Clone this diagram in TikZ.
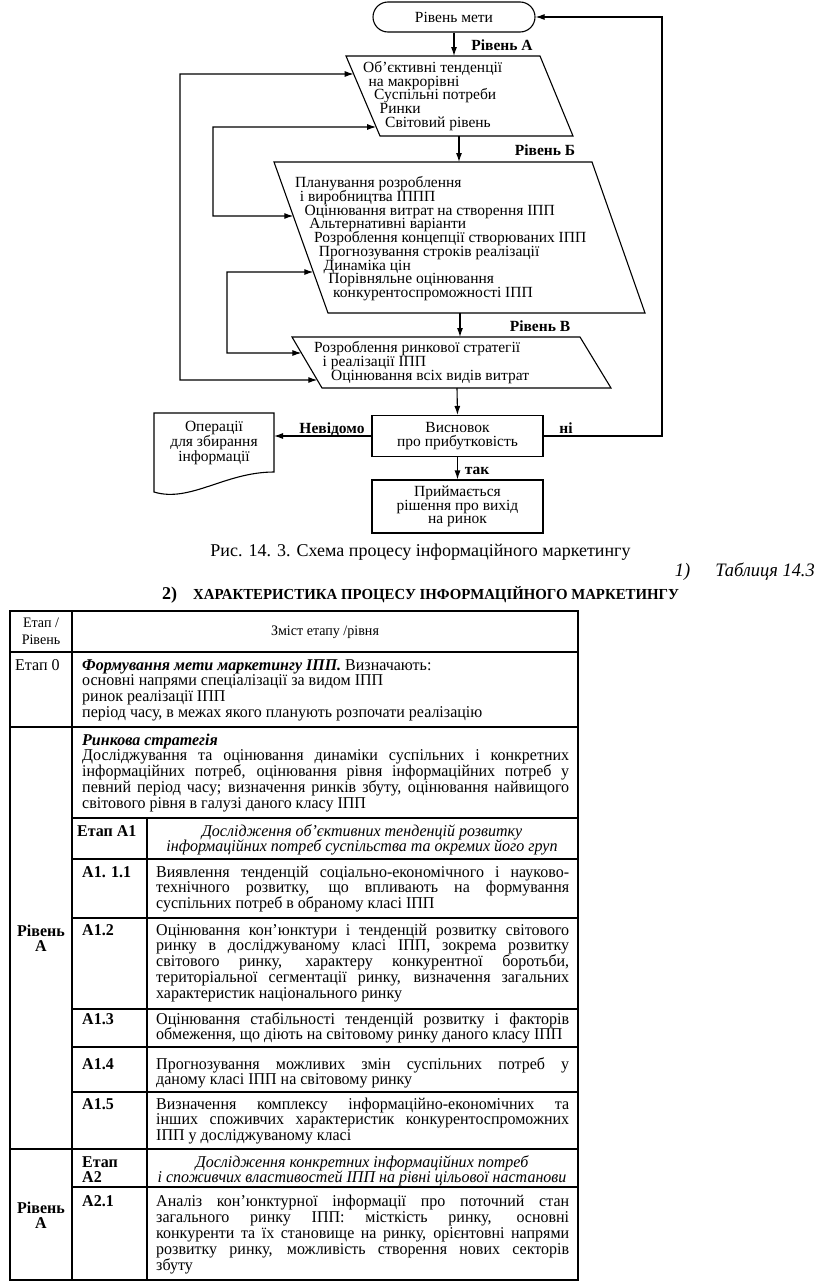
\documentclass[tikz,border=0pt]{standalone}
\usepackage{fontspec}
\setmainfont{Liberation Serif}
\newfontfamily\tabfont{Liberation Serif}[FakeStretch=0.97]
\usepackage{tikz}
\usetikzlibrary{arrows.meta, positioning, calc}
\newcommand{\fcfont}{\fontsize{15.5}{13.75}\selectfont}
\newcommand{\tbfont}{\tabfont\fontsize{16.5}{15.8}\selectfont}
\newcommand{\jl}[2][413pt]{\makebox[#1][s]{#2}}

\begin{document}
\begin{tikzpicture}[
  x=1pt, y=-1pt,
  link/.style={line width=1.1pt},
  flow/.style={link, -{Latex[length=9pt,width=6pt]}},
  both/.style={link, {Latex[length=9pt,width=6pt]}-{Latex[length=9pt,width=6pt]}},
  box/.style={draw, line width=1.1pt, minimum width=171pt, inner sep=0pt, font=\fcfont, align=center},
  term/.style={box, rounded corners=15pt, minimum width=162pt, minimum height=30pt},
  lvl/.style={font=\fcfont\bfseries, inner sep=0pt},
  ln/.style={anchor=base west, inner sep=0pt, font=\fcfont},
  cell/.style={anchor=base west, inner sep=0pt, font=\tbfont, align=left},
  grid/.style={line width=1.3pt}
]
  \useasboundingbox (0,0) rectangle (816,1282);

  \node[term] (goal) at (454,17) {Рівень мети};

  \draw[link] (346,56) coordinate (pa-nw) -- (540,56) coordinate (pa-ne)
    -- (573,136) coordinate (pa-se) -- (380,136) coordinate (pa-sw) -- cycle;
  \foreach \i/\t in {0/{Об’єктивні тенденції},1/{на макрорівні},2/{Суспільні потреби},3/{Ринки},4/{Світовий рівень}} {
    \node[ln] (ta\i) at (363+5.5*\i, 72.5+13.7*\i) {\t};
  }

  \draw[link] (274,162) coordinate (pb-nw) -- (592,162) coordinate (pb-ne)
    -- (645,313) coordinate (pb-se) -- (328,313) coordinate (pb-sw) -- cycle;
  \foreach \i/\t in {0/{Планування розроблення},1/{і виробництва ІППП},2/{Оцінювання витрат на створення ІПП},
    3/{Альтернативні варіанти},4/{Розроблення концепції створюваних ІПП},5/{Прогнозування строків реалізації},
    6/{Динаміка цін},7/{Порівняльне оцінювання},8/{конкурентоспроможності ІПП}} {
    \node[ln] (tb\i) at (295+4.75*\i, 187.5+13.75*\i) {\t};
  }

  \draw[link] (292,337) coordinate (pv-nw) -- (580,337) coordinate (pv-ne)
    -- (611,388) coordinate (pv-se) -- (322,388) coordinate (pv-sw) -- cycle;
  \foreach \i/\t in {0/{Розроблення ринкової стратегії},1/{і реалізації ІПП},2/{Оцінювання всіх видів витрат}} {
    \node[ln] (tv\i) at (314+8.5*\i, 352.5+14*\i) {\t};
  }

  \node[box, minimum height=41pt] (concl) at (457.5,436) {Висновок\\про прибутковість};
  \node[box, minimum height=53pt] (exit) at (457.5,506.5) {Приймається\\рішення про вихід\\на ринок};

  \draw[link] (154,413) coordinate (ops-nw) -- (274,413) -- (274,472)
    .. controls (225,472) and (190,503) .. (154,492) -- cycle;
  \node[font=\fcfont, align=center] (ops) at (214,443) {Операції\\для збирання\\інформації};

  \node[lvl] (lvA) at (502,45) {Рівень А};
  \node[lvl] (lvB) at (545,150) {Рівень Б};
  \node[lvl] (lvV) at (540,326) {Рівень В};
  \node[lvl] (unk) at (332,429) {Невідомо};
  \node[lvl] (no) at (566,428) {ні};
  \node[lvl] (yes) at (477,471) {так};

  \coordinate (pa-out) at (459,136);
  \coordinate (pb-out) at (460,313);
  \coordinate (pv-out) at (457,388);
  \coordinate (ops-e) at (274,436);
  \coordinate (pa-in1) at ($(pa-nw)!0.225!(pa-sw)$);
  \coordinate (pa-in2) at ($(pa-nw)!0.8875!(pa-sw)$);
  \coordinate (pb-in1) at ($(pb-nw)!0.3576!(pb-sw)$);
  \coordinate (pb-in2) at ($(pb-nw)!0.7285!(pb-sw)$);
  \coordinate (pv-in1) at ($(pv-nw)!0.3137!(pv-sw)$);
  \coordinate (pv-in2) at ($(pv-nw)!0.843!(pv-sw)$);

  \draw[flow] (goal.south) -- (goal.south |- pa-nw);
  \draw[flow] (pa-out) -- (pa-out |- pb-nw);
  \draw[flow] (pb-out) -- (pb-out |- pv-nw);
  \draw[flow] (pv-out) -- (concl.north);
  \draw[flow] (concl.south) -- (exit.north);
  \draw[flow] (concl.west) -- (ops-e);
  \draw[flow] (concl.east) -| (662,17) -- (goal.east);
  \draw[both] (pa-in1) -| (180,380) -- (pv-in2);
  \draw[both] (pa-in2) -| (213,216) -- (pb-in1);
  \draw[both] (pb-in2) -| (227,353) -- (pv-in1);

  \node[font=\fontsize{18}{20}\selectfont] (cap) at (420.5,552)
    {Рис. 14. 3. Схема процесу інформаційного маркетингу};
  \node[font=\tabfont\fontsize{19}{20}\selectfont\itshape, anchor=east, inner sep=0pt] (tabno) at (815,572)
    {1)\hspace{25pt}Таблиця 14.3};
  \node[font=\fontsize{18}{20}\selectfont\bfseries, anchor=base west, inner sep=0pt] (tnum) at (162,599) {2)};
  \node[font=\tabfont\fontsize{15.3}{16}\selectfont\bfseries, anchor=base west, inner sep=0pt] (title) at (193,599)
    {ХАРАКТЕРИСТИКА ПРОЦЕСУ ІНФОРМАЦІЙНОГО МАРКЕТИНГУ};

  \draw[grid] (10,611) rectangle (578,1280);
  \draw[grid] (72,611) -- (72,1280);
  \foreach \y in {652,727,1149} \draw[grid] (10,\y) -- (578,\y);
  \foreach \y in {818,859,918,1009,1047,1092,1187} \draw[grid] (72,\y) -- (578,\y);
  \draw[grid] (147,818) -- (147,1280);

  % multi-line cells sit on the baseline of their last line
  \node[font=\tabfont\fontsize{14.5}{16.5}\selectfont, align=center, anchor=base, inner sep=0pt] (h1) at (41,644) {Етап /\\Рівень};
  \node[font=\tabfont\fontsize{14.5}{16}\selectfont, anchor=base, inner sep=0pt] (h2) at (325,635) {Зміст етапу /рівня};
  \node[cell] (e0) at (15,670) {Етап 0};
  \node[cell] (c0) at (82,717.4) {\textbf{\textit{Формування мети маркетингу ІПП.}} Визначають:\\основні напрями спеціалізації за видом ІПП\\ринок реалізації ІПП\\період часу, в межах якого планують розпочати реалізацію};
  \node[cell] (cA) at (82,808.2) {\textbf{\textit{Ринкова стратегія}}\\\jl[487pt]{Досліджування та оцінювання динаміки суспільних і конкретних}\\\jl[487pt]{інформаційних потреб, оцінювання рівня інформаційних потреб у}\\\jl[487pt]{певний період часу; визначення ринків збуту, оцінювання найвищого}\\світового рівня в галузі даного класу ІПП};

  \node[font=\tbfont\bfseries, align=center, anchor=base, inner sep=0pt] (rA1) at (41,951.8) {Рівень\\А};
  \node[font=\tbfont\bfseries, align=center, anchor=base, inner sep=0pt] (rA2) at (41,1228.8) {Рівень\\А};

  \node[cell, font=\tbfont\bfseries] (sA1) at (77,836) {Етап А1};
  \node[font=\tbfont\itshape, align=center, anchor=base, inner sep=0pt] (dA1) at (362,851.8)
    {Дослідження об’єктивних тенденцій розвитку\\інформаційних потреб суспільства та окремих його груп};
  \foreach \lab/\y in {А1. 1.1/877, А1.2/935, А1.3/1024, А1.4/1069, А1.5/1109, А2.1/1206} {
    \node[cell, font=\tbfont\bfseries] (s\y) at (82,\y) {\lab};
  }
  \node[cell, font=\tbfont\bfseries] (sA2) at (82,1182.8) {Етап\\А2};
  \node[font=\tbfont\itshape, align=center, anchor=base, inner sep=0pt] (dA2) at (362,1182.8)
    {Дослідження конкретних інформаційних потреб\\і споживчих властивостей ІПП на рівні цільової настанови};

  \node[cell] (t11) at (156,908.6) {\jl{Виявлення тенденцій соціально-економічного і науково-}\\\jl{технічного розвитку, що впливають на формування}\\суспільних потреб в обраному класі ІПП};
  \node[cell] (t12) at (156,998.2) {\jl{Оцінювання кон’юнктури і тенденцій розвитку світового}\\\jl{ринку в досліджуваному класі ІПП, зокрема розвитку}\\\jl{світового ринку, характеру конкурентної боротьби,}\\\jl{територіальної сегментації ринку, визначення загальних}\\характеристик національного ринку};
  \node[cell] (t13) at (156,1039.8) {\jl{Оцінювання стабільності тенденцій розвитку і факторів}\\обмеження, що діють на світовому ринку даного класу ІПП};
  \node[cell] (t14) at (156,1084.8) {\jl{Прогнозування можливих змін суспільних потреб у}\\даному класі ІПП на світовому ринку};
  \node[cell] (t15) at (156,1140.6) {\jl{Визначення комплексу інформаційно-економічних та}\\\jl{інших споживчих характеристик конкурентоспроможних}\\ІПП у досліджуваному класі};
  \node[cell] (t21) at (156,1270) {\jl{Аналіз кон’юнктурної інформації про поточний стан}\\\jl{загального ринку ІПП: місткість ринку, основні}\\\jl{конкуренти та їх становище на ринку, орієнтовні напрями}\\\jl{розвитку ринку, можливість створення нових секторів}\\збуту};
\end{tikzpicture}
\end{document}
